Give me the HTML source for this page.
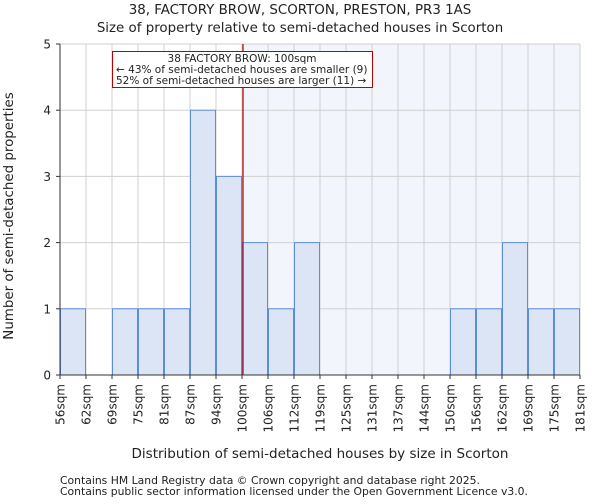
<!DOCTYPE html>
<html><head><meta charset="utf-8"><style>
body{margin:0;background:#fff;font-family:"DejaVu Sans","Liberation Sans",sans-serif;}
svg text{font-family:"DejaVu Sans","Liberation Sans",sans-serif;fill:#222;}
</style></head><body>
<svg id="c" width="600" height="500" xmlns="http://www.w3.org/2000/svg">
<text x="300" y="14" font-size="13.4" text-anchor="middle">38, FACTORY BROW, SCORTON, PRESTON, PR3 1AS</text>
<text x="300" y="32" font-size="13.4" text-anchor="middle">Size of property relative to semi-detached houses in Scorton</text>
<rect x="242" y="44" width="338" height="331" fill="#f2f5fc"/>
<g id="grid"></g><g id="bars"></g><g id="axes"></g>
<line x1="243" y1="44" x2="243" y2="375" stroke="#b00000" stroke-width="1.2"/>
<rect x="112.5" y="51.5" width="260" height="36" fill="#fff" stroke="#c00000" stroke-width="1"/>
<text x="242" y="62" font-size="10.5" text-anchor="middle">38 FACTORY BROW: 100sqm</text>
<text x="116" y="73" font-size="10.5">← 43% of semi-detached houses are smaller (9)</text>
<text x="116" y="84" font-size="10.5">52% of semi-detached houses are larger (11) →</text>
<text x="320" y="458" font-size="13.5" text-anchor="middle">Distribution of semi-detached houses by size in Scorton</text>
<text transform="translate(13,216) rotate(-90)" font-size="13.4" text-anchor="middle">Number of semi-detached properties</text>
<text x="60" y="484" font-size="10.8" fill="#444">Contains HM Land Registry data © Crown copyright and database right 2025.</text>
<text x="60" y="495" font-size="10.8" fill="#444">Contains public sector information licensed under the Open Government Licence v3.0.</text>
</svg>
<script>
const tickLabels=["56sqm","62sqm","69sqm","75sqm","81sqm","87sqm","94sqm","100sqm","106sqm","112sqm","119sqm","125sqm","131sqm","137sqm","144sqm","150sqm","156sqm","162sqm","169sqm","175sqm","181sqm"];
const counts=[1,0,1,1,1,4,3,2,1,2,0,0,0,0,0,1,1,2,1,1];
const yTicks=[0,1,2,3,4,5];
const NS="http://www.w3.org/2000/svg";
const X0=60,X1=580,Y0=375,Y1=44,YMAX=5;
const bw=(X1-X0)/counts.length;
const xs=i=>X0+i*bw, ys=v=>Y0-(Y0-Y1)*v/YMAX;
function mk(t,a,p){const e=document.createElementNS(NS,t);for(const k in a)e.setAttribute(k,a[k]);p.appendChild(e);return e;}
const grid=document.getElementById('grid'),bars=document.getElementById('bars'),axes=document.getElementById('axes');
tickLabels.forEach((l,i)=>{const x=xs(i);
 const g=mk('line',{x1:x,x2:x,y1:Y1,y2:Y0,stroke:'#d0d0d0','stroke-width':1},grid);
 
 
 const tk=mk('line',{x1:x,x2:x,y1:Y0,y2:Y0+4,stroke:'#333'},axes);
 
 
 const t=mk('text',{transform:`translate(${x+4.5},${Y0+9}) rotate(-90)`,'font-size':12,'text-anchor':'end'},axes);
 t.textContent=l;
 
 
});
yTicks.forEach(v=>{const y=ys(v);
 const g=mk('line',{x1:X0,x2:X1,y1:y,y2:y,stroke:'#d0d0d0','stroke-width':1},grid);
 
 
 const tk=mk('line',{x1:X0-4,x2:X0,y1:y,y2:y,stroke:'#333'},axes);
 
 
 const t=mk('text',{x:X0-9,y:y+4.5,'font-size':12,'text-anchor':'end'},axes);
 t.textContent=v;
 
 
});
counts.forEach((c,i)=>{if(!c)return;
 const r=mk('rect',{x:xs(i)+0.5,y:ys(c),width:bw-1,height:Y0-ys(c),fill:'#dce5f5',stroke:'#5b8ed6','stroke-width':1},bars);
 
 
});
const ax=mk('path',{d:`M${X0},${Y1}V${Y0}H${X1}`,fill:'none',stroke:'#333'},axes);


</script>
</body></html>
